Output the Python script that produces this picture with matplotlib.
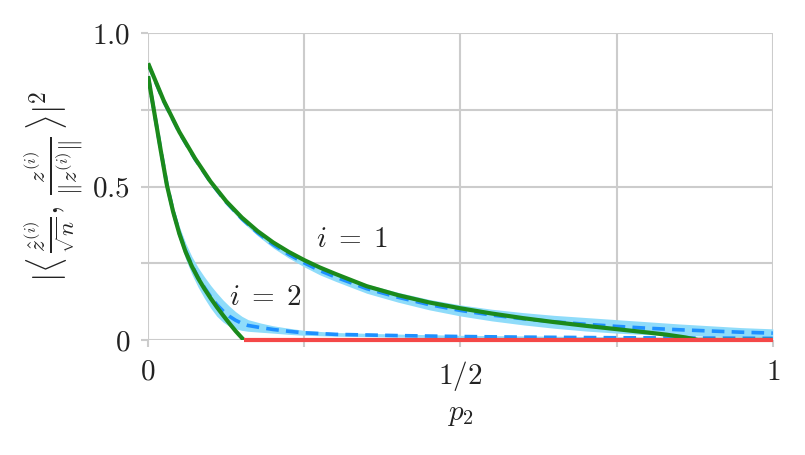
import matplotlib
matplotlib.use('Agg')
import matplotlib.pyplot as plt
import numpy as np

# theory curves
theory_p_1 = [0, 0.025, 0.05, 0.075, 0.1, 0.125, 0.15, 0.175, 0.2, 0.225, 0.25,
              0.275, 0.3, 0.35, 0.4, 0.45, 0.5, 0.55, 0.6, 0.65, 0.7, 0.75,
              0.8, 0.83, 0.86, 0.88, 1.0]
theory_1 = [0.902, 0.78, 0.678, 0.592, 0.516, 0.452, 0.399, 0.355, 0.318, 0.287, 0.26,
            0.236, 0.215, 0.175, 0.146, 0.122, 0.103, 0.086, 0.071, 0.058, 0.046, 0.035,
            0.024, 0.017, 0.008, 0.0, 0.0]

theory_p_2 = [0, 0.01, 0.02, 0.03, 0.04, 0.05, 0.06, 0.07, 0.08, 0.09, 0.1,
              0.11, 0.12, 0.13, 0.14, 0.153]
theory_2 = [0.86, 0.74, 0.62, 0.505, 0.418, 0.346, 0.287, 0.24, 0.201, 0.167, 0.136,
            0.107, 0.08, 0.054, 0.029, 0.0]

# zero branch
zero_p = [0.153, 1.0]
zero_val = [0.0, 0.0]

# simulation mean / std
sim_p_1 = [0, 0.025, 0.05, 0.075, 0.1, 0.125, 0.15, 0.175, 0.2, 0.225, 0.25, 0.275,
           0.3, 0.35, 0.4, 0.45, 0.5, 0.55, 0.6, 0.65, 0.7, 0.75, 0.8, 0.85, 0.9,
           0.95, 1.0]
sim_mean_1 = [0.9, 0.778, 0.676, 0.59, 0.514, 0.449, 0.395, 0.35, 0.311, 0.279, 0.251,
              0.226, 0.205, 0.167, 0.139, 0.115, 0.096, 0.081, 0.069, 0.059, 0.051,
              0.044, 0.038, 0.033, 0.029, 0.025, 0.022]
sim_std_1 = [0.003, 0.004, 0.005, 0.006, 0.007, 0.008, 0.009, 0.01, 0.011, 0.012, 0.013,
             0.014, 0.014, 0.015, 0.016, 0.017, 0.018, 0.019, 0.02, 0.021, 0.022,
             0.022, 0.021, 0.019, 0.017, 0.015, 0.014]

sim_p_2 = [0, 0.01, 0.02, 0.03, 0.04, 0.05, 0.06, 0.07, 0.08, 0.09, 0.1, 0.11, 0.12,
           0.13, 0.14, 0.15, 0.16, 0.18, 0.2, 0.225, 0.25, 0.3, 0.4, 0.5, 0.6, 0.75,
           0.9, 1.0]
sim_mean_2 = [0.86, 0.74, 0.622, 0.508, 0.42, 0.348, 0.29, 0.243, 0.204, 0.171, 0.141,
              0.115, 0.094, 0.077, 0.064, 0.054, 0.047, 0.04, 0.034, 0.028, 0.023,
              0.018, 0.014, 0.011, 0.009, 0.007, 0.006, 0.005]
sim_std_2 = [0.003, 0.006, 0.01, 0.014, 0.018, 0.022, 0.026, 0.029, 0.032, 0.035, 0.037,
             0.038, 0.036, 0.033, 0.028, 0.023, 0.019, 0.015, 0.012, 0.01, 0.008,
             0.006, 0.005, 0.004, 0.004, 0.003, 0.003, 0.003]

green = '#1b8a1b'
blue = '#1e90ff'
band = '#8fdcfa'
red = '#f44848'
ink = '#222222'

plt.rcParams['mathtext.fontset'] = 'cm'
plt.rcParams['font.family'] = 'serif'
plt.rcParams['font.serif'] = ['cmr10', 'DejaVu Serif']
plt.rcParams['axes.formatter.use_mathtext'] = True

fig = plt.figure(figsize=(8.05, 4.55), dpi=100)
ax = fig.add_axes([0.184, 0.253, 0.776, 0.674])

for p, m, s in [(sim_p_1, sim_mean_1, sim_std_1), (sim_p_2, sim_mean_2, sim_std_2)]:
    m = np.array(m)
    s = np.array(s)
    ax.fill_between(p, m - s, m + s, color=band, lw=0, zorder=2)
    ax.plot(p, m, color=blue, lw=2.6, ls=(0, (3.5, 2.0)), zorder=3)

ax.plot(theory_p_1, theory_1, color=green, lw=3.0, zorder=4, solid_capstyle='butt')
ax.plot(theory_p_2, theory_2, color=green, lw=3.0, zorder=4, solid_capstyle='butt')
ax.plot(zero_p, zero_val, color=red, lw=3.0, zorder=5, clip_on=False,
        solid_capstyle='butt')

ax.text(0.326, 0.326, r'$i\;=\;1$', fontsize=21, ha='center', va='center', color=ink)
ax.text(0.187, 0.137, r'$i\;=\;2$', fontsize=21, ha='center', va='center', color=ink)

ax.set_xlim(0, 1)
ax.set_ylim(0, 1)
ax.set_xticks([0, 0.5, 1])
ax.set_xticklabels([r'$0$', r'$1/2$', r'$1$'])
ax.set_xticks([0.25, 0.75], minor=True)
ax.set_yticks([0, 0.5, 1])
ax.set_yticklabels([r'$0$', r'$0.5$', r'$1.0$'])
ax.set_yticks([0.25, 0.75], minor=True)

ax.grid(True, which='both', color='#cccccc', lw=1.5, zorder=0)
ax.set_axisbelow(True)
for sp in ax.spines.values():
    sp.set_visible(False)
ax.tick_params(which='both', direction='out', length=5, width=1.5, color='#cccccc',
               labelsize=21, labelcolor=ink)
ax.tick_params(axis='y', pad=8)
ax.tick_params(axis='x', pad=9)

ax.set_xlabel(r'$p_2$', fontsize=21, color=ink, labelpad=6)
ax.set_ylabel(r'$|\langle\, \frac{\hat{z}^{(i)}}{\sqrt{n}},\, \frac{z^{(i)}}{\Vert z^{(i)}\Vert}\, \rangle|^2$',
              fontsize=24, color=ink, labelpad=4)

fig.savefig('out.png', dpi=100)
